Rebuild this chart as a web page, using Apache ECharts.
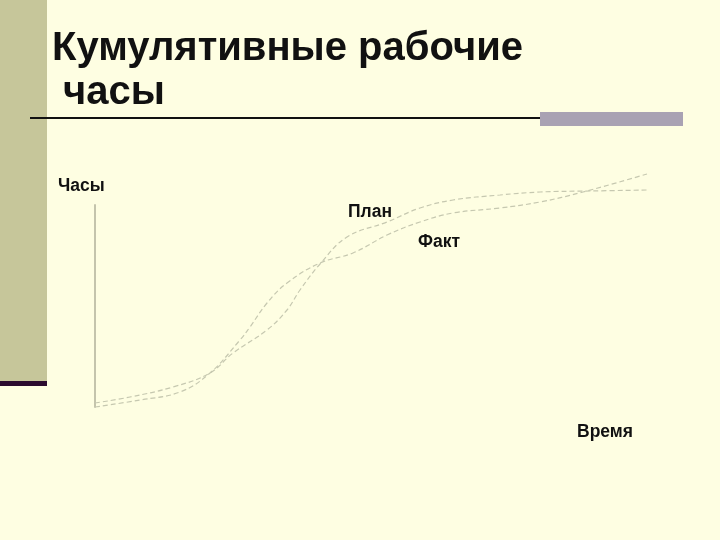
<!DOCTYPE html>
<html>
<head>
<meta charset="utf-8">
<script src="https://cdn.jsdelivr.net/npm/echarts@6/dist/echarts.min.js"></script>
<style>
  html, body { margin: 0; padding: 0; background: #fefee2; }
  #chart { width: 720px; height: 540px; }
</style>
</head>
<body>
<div id="chart"></div>
<script>
// curve readings, x = time units from origin, y = hours
const planX = [0, 35, 78, 115, 138, 172, 192, 205, 225, 252, 292, 325, 358, 405, 445, 495, 552]
const planY = [4, 10, 20, 34, 54, 77, 97, 117, 143, 170, 185, 199, 207, 212, 215, 216, 217]

const factX = [0, 45, 85, 115, 145, 155, 172, 192, 225, 258, 292, 325, 358, 405, 445, 488, 552]
const factY = [0, 7, 15, 34, 67, 80, 104, 124, 144, 154, 172, 185, 194, 199, 205, 215, 233]

const seriesNames = ['План', 'Факт']

const chart = echarts.init(document.getElementById('chart'))

// pair up x/y arrays for the value axes
function toPoints(xs, ys) {
  return xs.map((x, i) => [x, ys[i]])
}

const curveStyle = {
  color: '#c6c8b0',
  width: 1.2,
  type: [5, 3]
}

const labelFont = {
  fontFamily: 'Liberation Sans',
  fontWeight: 'bold',
  fontSize: 17.5,
  fill: '#111111'
}

const options = {
  backgroundColor: '#fefee2',
  animation: false,
  title: {
    text: 'Кумулятивные рабочие\n часы',
    left: 47,
    top: 22,
    textStyle: {
      fontFamily: 'Liberation Sans',
      fontWeight: 'bold',
      fontSize: 40,
      lineHeight: 44,
      color: '#111111'
    }
  },
  grid: {
    left: 95,
    right: 73,
    top: 205,
    bottom: 133
  },
  xAxis: {
    type: 'value',
    min: 0,
    max: 552,
    axisLine: { show: false },
    axisTick: { show: false },
    axisLabel: { show: false },
    splitLine: { show: false }
  },
  yAxis: {
    type: 'value',
    min: 0,
    max: 202,
    axisLine: {
      show: true,
      lineStyle: { color: '#c4c4ac', width: 2 }
    },
    axisTick: { show: false },
    axisLabel: { show: false },
    splitLine: { show: false }
  },
  graphic: [
    // left decorative bar
    { type: 'rect', shape: { x: 0, y: 0, width: 47, height: 381 }, style: { fill: '#c6c69a' } },
    { type: 'rect', shape: { x: 0, y: 381, width: 47, height: 5 }, style: { fill: '#2b0b2e' } },
    // title underline and grey block
    { type: 'rect', shape: { x: 30, y: 117, width: 512, height: 2 }, style: { fill: '#111111' } },
    { type: 'rect', shape: { x: 540, y: 112, width: 143, height: 14 }, style: { fill: '#a9a2b3' } },
    // axis and series labels
    { type: 'text', left: 58, top: 177, style: Object.assign({ text: 'Часы' }, labelFont) },
    { type: 'text', left: 348, top: 203, style: Object.assign({ text: seriesNames[0] }, labelFont) },
    { type: 'text', left: 418, top: 233, style: Object.assign({ text: seriesNames[1] }, labelFont) },
    { type: 'text', left: 577, top: 423, style: Object.assign({ text: 'Время' }, labelFont) }
  ],
  series: [
    {
      name: seriesNames[0],
      type: 'line',
      smooth: 0.4,
      clip: false,
      showSymbol: false,
      lineStyle: curveStyle,
      data: toPoints(planX, planY)
    },
    {
      name: seriesNames[1],
      type: 'line',
      smooth: 0.4,
      clip: false,
      showSymbol: false,
      lineStyle: curveStyle,
      data: toPoints(factX, factY)
    }
  ]
}

chart.setOption(options)
</script>
</body>
</html>
